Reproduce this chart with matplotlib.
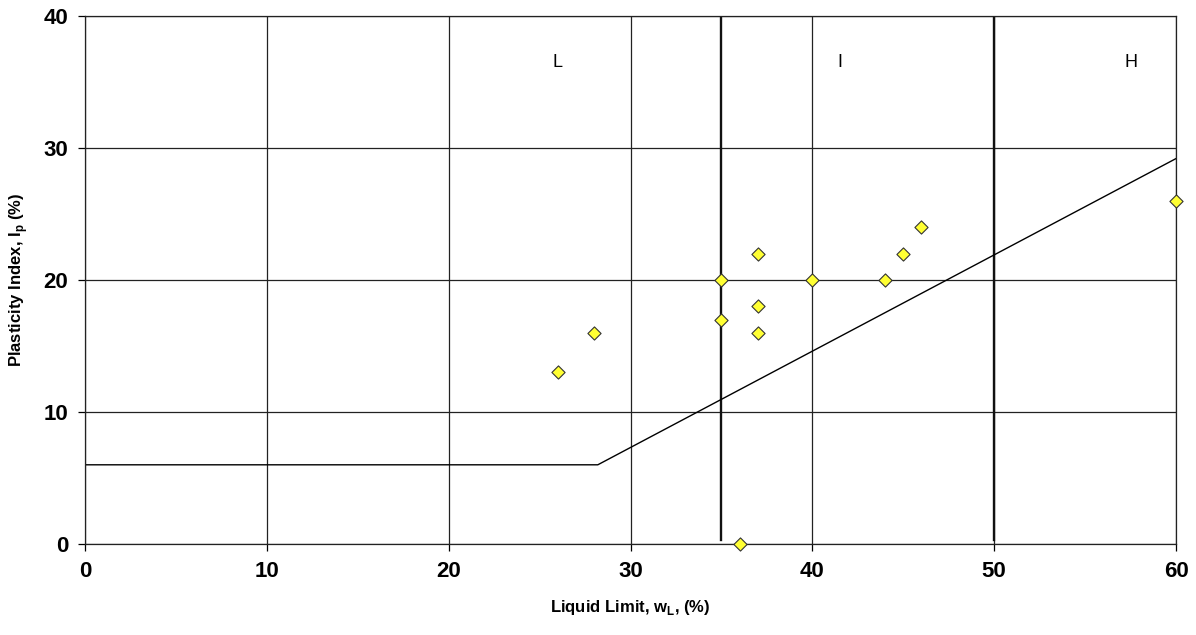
import matplotlib.pyplot as plt

# sample data
liquid_limit = [26, 28, 35, 35, 36, 37, 37, 37, 40, 44, 45, 46, 60]
plasticity_index = [13, 16, 20, 17, 0, 22, 18, 16, 20, 20, 22, 24, 26]

# A-line (Casagrande): horizontal part then Ip = 0.73 (wL - 20)
a_line_x = [0, 28.2, 60]
a_line_y = [6, 6, 29.2]

# zone boundaries and labels
zone_bounds = [35, 50]
zone_labels = ["L", "I", "H"]
zone_label_x = [26, 41.5, 57.5]

plt.rcParams['font.family'] = ['Liberation Sans', 'DejaVu Sans']
plt.rcParams['font.weight'] = 'bold'

fig = plt.figure(figsize=(11.96, 6.35), dpi=100)
ax = fig.add_axes([0.0711, 0.1433, 0.9122, 0.8315])

ax.set_xlim(0, 60)
ax.set_ylim(0, 40)
ax.set_xticks(range(0, 61, 10))
ax.set_yticks(range(0, 41, 10))
ax.grid(True, color='#222222', linewidth=0.9)
ax.set_axisbelow(True)

for s in ['bottom', 'left', 'top', 'right']:
    ax.spines[s].set_linewidth(0.9)
    ax.spines[s].set_color('#222222')

for b in zone_bounds:
    ax.plot([b, b], [0.3, 40], color='#111111', linewidth=1.7, zorder=2)

ax.plot(a_line_x, a_line_y, color='black', linewidth=1.0, zorder=2)

for lab, lx in zip(zone_labels, zone_label_x):
    ax.text(lx, 36.5, lab, ha='center', va='center', fontsize=13, fontweight='normal')

ax.scatter(liquid_limit, plasticity_index, marker='D', s=45, color='#ffff33',
           edgecolor='#333333', linewidth=0.8, zorder=5, clip_on=False)

ax.tick_params(direction='out', length=5, width=0.9, labelsize=16, pad=7)
ax.set_xlabel('Liquid Limit, w$_\\mathregular{L}$, (%)', fontsize=12, fontweight='bold', labelpad=12)
ax.set_ylabel('Plasticity Index, I$_\\mathregular{p}$ (%)', fontsize=12, fontweight='bold', labelpad=10)

fig.savefig('out.png', dpi=100)
